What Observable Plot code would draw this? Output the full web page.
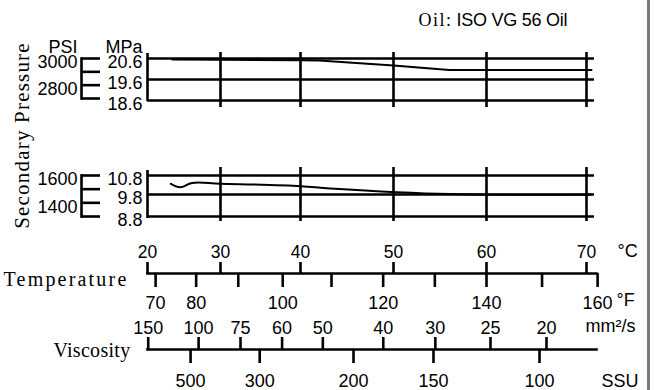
<!DOCTYPE html>
<html><head><meta charset="utf-8">
<script src="https://cdn.jsdelivr.net/npm/d3@7"></script>
<script src="https://cdn.jsdelivr.net/npm/@observablehq/plot@0.6"></script>
<style>
html,body{margin:0;padding:0;background:#fff;overflow:hidden;}
#chart{position:relative;width:654px;height:390px;overflow:hidden;background:#fff;}
#chart svg{position:absolute;left:0;top:0;background:transparent;overflow:visible;}
</style></head><body><div id="chart"></div>
<script>
// ---------- data ----------
const oilName = "ISO VG 56 Oil";
const tempStops = [20, 30, 40, 50, 60, 70];          // °C ticks
const gridTemps = [30, 40, 50, 60, 70];               // vertical grid in panels
const fTicks = [70, 80, 90, 100, 110, 120, 130, 140, 150, 160];
const fLabels = [70, 80, 100, 120, 140, 160];
const mm2Ticks = [150, 100, 75, 60, 50, 40, 30, 25, 20];      // mm²/s
const mm2Temps = [20.1, 27.0, 32.5, 37.7, 42.4, 48.9, 54.5, 60.4, 66.0]; // °C where oil has that viscosity
const ssuTicks = [500, 300, 200, 150, 100];
const ssuTemps = [25.9, 34.9, 45.7, 54.3, 65.3];
const mpaTop = [20.6, 19.6, 18.6];
const mpaBottom = [10.8, 9.8, 8.8];
const psiTopTicks = [3000, 2900, 2800, 2700];
const psiTopLabels = [3000, 2800];
const psiBottomTicks = [1600, 1500, 1400, 1300];
const psiBottomLabels = [1600, 1400];
const curveTopT = [23.4, 30, 40, 42, 50, 56, 70.5];
const curveTopP = [20.55, 20.54, 20.52, 20.5, 20.27, 20.05, 20.05];
const curveBotT = [23.2, 24.5, 26.1, 30, 40, 43.2, 56.1, 70.5];
const curveBotP = [10.36, 10.18, 10.41, 10.37, 10.24, 10.12, 9.82, 9.8];
const gridEndT = 70.8;

// ---------- layout ----------
const W = 654, H = 390;
const tempPx = [147, 220, 300, 393, 486, 586];
const sans = "Liberation Sans, Arial, Helvetica, sans-serif";
const serif = "Liberation Serif, 'Times New Roman', Times, serif";
const LW = 2.6, FS = 18;
const xScale = {type: "linear", domain: tempStops, range: tempPx, axis: null};
const toC = f => (f - 32) * 5 / 9;
const chart = document.getElementById("chart");
const add = svg => { chart.appendChild(svg); return svg; };
const T = (o) => Object.assign({fontSize: FS, fontFamily: sans, fill: "#000", lineAnchor: "middle"}, o);
function spacing(svg, str, px, word) {
  d3.select(svg).selectAll("text").filter(function() { return this.textContent === str; })
    .style("letter-spacing", px + "px").style("word-spacing", (word || 0) + "px");
}

function panel(mpa, yDomain, yRange, Tt, P, curve, ext) {
  const top = d3.max(mpa), bot = d3.min(mpa);
  const curveData = Tt.map((t, i) => ({t, p: P[i]}));
  return Plot.plot({
    width: W, height: H, margin: 0,
    x: xScale,
    y: {type: "linear", domain: yDomain, range: yRange, axis: null},
    marks: [
      Plot.ruleY(mpa, {y: d => d, x1: tempStops[0], x2: gridEndT, stroke: "#000", strokeWidth: LW}),
      Plot.ruleX(gridTemps, {x: d => d, y1: top, y2: bot, insetTop: -ext[0], insetBottom: -ext[1], stroke: "#000", strokeWidth: LW}),
      Plot.ruleX([tempStops[0]], {x: d => d, y1: top, y2: bot, insetTop: -ext[2], insetBottom: -ext[3], stroke: "#000", strokeWidth: LW}),
      Plot.text(mpa, T({x: tempStops[0], y: d => d, text: d => d.toFixed(1), textAnchor: "end", dx: -5, dy: 4})),
      Plot.line(curveData, {x: "t", y: "p", curve, stroke: "#000", strokeWidth: 2})
    ]
  });
}

add(panel(mpaTop, [18.6, 20.6], [100, 58], curveTopT, curveTopP, "linear", [6, 7, 5, 1]));
add(panel(mpaBottom, [8.8, 9.8, 10.8], [216, 194, 175], curveBotT, curveBotP, "catmull-rom", [8, 5, 5, 2]));

function psiAxis(ticks, labels, top, bottom, header) {
  return Plot.plot({
    width: W, height: H, marginLeft: 81, marginRight: W - 100, marginTop: top, marginBottom: H - bottom,
    y: {domain: [d3.min(ticks), d3.max(ticks)], axis: null},
    marks: [
      Plot.frame({anchor: "left", stroke: "#000", strokeWidth: LW}),
      Plot.tickY(ticks, {y: d => d, stroke: "#000", strokeWidth: LW}),
      Plot.text(labels, T({y: d => d, text: d => String(d), frameAnchor: "left", textAnchor: "end", dx: -4, dy: 4})),
      header ? Plot.text([header], T({frameAnchor: "top-left", textAnchor: "end", dx: -4, dy: -11})) : null,
      header ? Plot.text(["MPa"], T({frameAnchor: "top-right", textAnchor: "start", dx: 5, dy: -11})) : null
    ]
  });
}
add(psiAxis(psiTopTicks, psiTopLabels, 58, 98, "PSI"));
add(psiAxis(psiBottomTicks, psiBottomLabels, 175, 216, null));

// temperature axis
const fLabelSet = new Set(fLabels);
const tempSvg = add(Plot.plot({
  width: W, height: H, marginLeft: 147, marginRight: W - 596, marginTop: 273, marginBottom: H - 273,
  x: xScale,
  marks: [
    Plot.frame({anchor: "top", stroke: "#000", strokeWidth: LW}),
    Plot.axisX(tempStops, {anchor: "top", label: null, tickSize: 12, tickPadding: 4, tickFormat: d => String(d), fontSize: 17.5, fontFamily: sans, stroke: "#000", strokeWidth: LW, fill: "#000"}),
    Plot.axisX(fTicks.map(toC), {anchor: "bottom", label: null, tickSize: 14, tickPadding: 9, tickFormat: c => {const f = Math.round(c * 9 / 5 + 32); return fLabelSet.has(f) ? String(f) : "";}, fontSize: FS, fontFamily: sans, stroke: "#000", strokeWidth: LW, fill: "#000"}),
    Plot.text(["°C"], T({frameAnchor: "top-right", textAnchor: "start", dx: 21, dy: -22})),
    Plot.text(["°F"], T({frameAnchor: "top-right", textAnchor: "start", dx: 20, dy: 27})),
    Plot.text(["Temperature"], T({frameAnchor: "top-left", textAnchor: "end", dx: -19, dy: 6, fontSize: 20, fontFamily: serif}))
  ]
}));
spacing(tempSvg, "Temperature", 2.2);

// viscosity axis
const mm2ByT = new Map(mm2Temps.map((t, i) => [t, mm2Ticks[i]]));
const ssuByT = new Map(ssuTemps.map((t, i) => [t, ssuTicks[i]]));
const viscSvg = add(Plot.plot({
  width: W, height: H, marginLeft: 147, marginRight: W - 596, marginTop: 349, marginBottom: H - 349,
  x: xScale,
  marks: [
    Plot.frame({anchor: "top", stroke: "#000", strokeWidth: LW}),
    Plot.axisX(mm2Temps, {anchor: "top", label: null, tickSize: 13, tickPadding: 3, tickFormat: t => String(mm2ByT.get(t)), fontSize: FS, fontFamily: sans, stroke: "#000", strokeWidth: LW, fill: "#000"}),
    Plot.axisX(ssuTemps, {anchor: "bottom", label: null, tickSize: 14, tickPadding: 11, tickFormat: t => String(ssuByT.get(t)), fontSize: FS, fontFamily: sans, stroke: "#000", strokeWidth: LW, fill: "#000"}),
    Plot.text(["mm²/s"], T({frameAnchor: "top-right", textAnchor: "start", dx: -11, dy: -23})),
    Plot.text(["SSU"], T({frameAnchor: "top-right", textAnchor: "start", dx: 5, dy: 32})),
    Plot.text(["Viscosity"], T({frameAnchor: "top-left", textAnchor: "end", dx: -17, dy: 1, fontSize: 20, fontFamily: serif}))
  ]
}));
spacing(viscSvg, "Viscosity", 0.3);

// titles and page edge
const titleSvg = add(Plot.plot({
  width: W, height: H, marginTop: 0, marginBottom: 0, marginLeft: 0, marginRight: W - 648,
  marks: [
    Plot.frame({anchor: "right", stroke: "#7a7a7a", strokeWidth: 3}),
    Plot.text(["Secondary Pressure"], T({frameAnchor: "top-left", textAnchor: "middle", dx: 22, dy: 135, rotate: -90, fontSize: 21, fontFamily: serif})),
    Plot.text(["Oil:"], T({frameAnchor: "top-left", textAnchor: "end", dx: 452, dy: 20, fontSize: 18, fontFamily: serif})),
    Plot.text([oilName], T({frameAnchor: "top-left", textAnchor: "start", dx: 456, dy: 20, fontSize: 18}))
  ]
}));
spacing(titleSvg, "Secondary Pressure", 1.2);
spacing(titleSvg, "Oil:", 1.5);
spacing(titleSvg, oilName, -0.25);
</script></body></html>
